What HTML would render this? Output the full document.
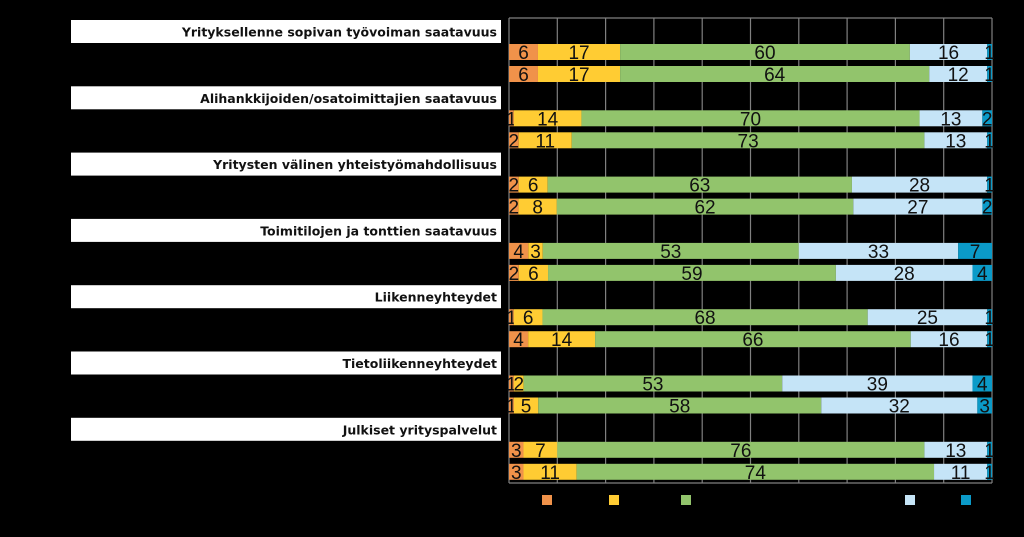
<!DOCTYPE html>
<html><head><meta charset="utf-8"><style>
html,body{margin:0;padding:0;background:#000;}
svg{display:block}
</style></head><body>
<svg id="chart" width="1024" height="537" viewBox="0 0 1024 537" xmlns="http://www.w3.org/2000/svg">
<rect x="0" y="0" width="1024" height="537" fill="#000"/>
<g id="grid"></g>
<g id="labels"></g>
<g id="bars"></g>
<g id="legend"></g>
</svg>
<script>
const categories = ["Yrityksellenne sopivan työvoiman saatavuus","Alihankkijoiden/osatoimittajien saatavuus","Yritysten välinen yhteistyömahdollisuus","Toimitilojen ja tonttien saatavuus","Liikenneyhteydet","Tietoliikenneyhteydet","Julkiset yrityspalvelut"];
const series1 = [6,6,1,2,2,2,4,2,1,4,1,1,3,3];
const series2 = [17,17,14,11,6,8,3,6,6,14,2,5,7,11];
const series3 = [60,64,70,73,63,62,53,59,68,66,53,58,76,74];
const series4 = [16,12,13,13,28,27,33,28,25,16,39,32,13,11];
const series5 = [1,1,2,1,1,2,7,4,1,1,4,3,1,1];
const gridTicks = [0,10,20,30,40,50,60,70,80,90,100];
const colors = ["#F0924A","#FFCC33","#92C46C","#C5E4F7","#0B9AC8"];
const NS="http://www.w3.org/2000/svg";
const X0=509, X1=992, Y0=18, Y1=483;
function xScale(p){return X0+(X1-X0)*p/100;}
function barY(i){const g=Math.floor(i/2);return 44+g*66.3+(i%2)*22;}
function mk(tag,attrs,parent){const e=document.createElementNS(NS,tag);for(const k in attrs)e.setAttribute(k,attrs[k]);parent.appendChild(e);return e;}
const grid=document.getElementById('grid');
gridTicks.forEach(t=>{
  const l=mk('line',{x1:xScale(t),x2:xScale(t),y1:Y0,y2:Y1,stroke:'#808080','stroke-width':1.2},grid);
  
  
});
const topBorder=mk('line',{x1:X0,x2:X1,y1:Y0,y2:Y0,stroke:'#808080','stroke-width':1.2},grid);


const bottomBorder=mk('line',{x1:X0,x2:X1,y1:Y1,y2:Y1,stroke:'#808080','stroke-width':1.2},grid);


const labels=document.getElementById('labels');
categories.forEach((c,g)=>{
  const y=20+g*66.3;
  const r=mk('rect',{x:71,y:y,width:430,height:23,fill:'#fff'},labels);
  
  
  const t=mk('text',{x:497,y:y+16.5,'text-anchor':'end','font-family':'DejaVu Sans, Liberation Sans, sans-serif','font-weight':'bold','font-size':12.5,fill:'#111'},labels);
  t.textContent=c;
  
  
});
const bars=document.getElementById('bars');
const all=[series1,series2,series3,series4,series5];
for(let i=0;i<series1.length;i++){
  const vals=all.map(s=>s[i]);
  const sum=vals.reduce((a,b)=>a+b,0);
  let acc=0;const y=barY(i);
  vals.forEach((v,k)=>{
    const xa=xScale(acc/sum*100), xb=xScale((acc+v)/sum*100);
    const r=mk('rect',{x:xa,y:y,width:xb-xa,height:16,fill:colors[k]},bars);
    
    
    const t=mk('text',{x:(xa+xb)/2,y:y+15,'text-anchor':'middle','font-family':'Liberation Sans, sans-serif','font-size':19,fill:'#111'},bars);
    t.textContent=v;
    
    
    acc+=v;
  });
}
const legend=document.getElementById('legend');
[547,614,686,910,966].forEach((x,k)=>{
  const r=mk('rect',{x:x-5,y:495,width:10,height:10,fill:colors[k]},legend);
  
  
});
</script>
</body></html>
